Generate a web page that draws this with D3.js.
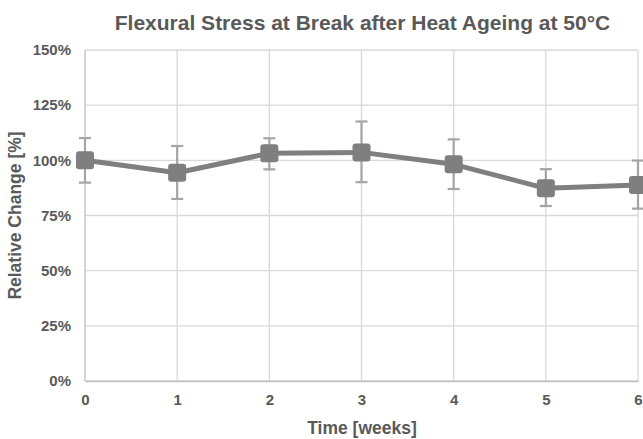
<!DOCTYPE html>
<html>
<head>
<meta charset="utf-8">
<script src="https://cdn.jsdelivr.net/npm/d3@7"></script>
<style>
  body { margin: 0; background: #fff; overflow: hidden; }
  text { font-family: "Liberation Sans", Arial, sans-serif; font-weight: bold; fill: #595959; }
</style>
</head>
<body>
<div class="container"></div>
<script>
// data
var weeks = [0, 1, 2, 3, 4, 5, 6]
var relChange = [100.0, 94.4, 103.2, 103.6, 98.2, 87.3, 88.8]
var errHigh = [110.1, 106.5, 110.0, 117.6, 109.5, 96.0, 99.9]
var errLow = [89.9, 82.5, 95.9, 90.1, 87.0, 79.3, 78.1]
var yTicks = [0, 25, 50, 75, 100, 125, 150]

var W = 643
var H = 439
var margin = { top: 50, right: 5, bottom: 58, left: 85 }
var height = H - margin.top - margin.bottom

var svg = d3.select('.container')
            .append('svg')
            .attr('width', W)
            .attr('height', H)

var g = svg.append('g')
           .attr('transform', 'translate(' + margin.left + ',' + margin.top + ')')

var xScale = d3.scaleLinear().domain([0, 6]).range([0, 553])
var yScale = d3.scaleLinear().domain([0, 150]).range([height, 0])

// gridlines
g.append('g')
 .selectAll('line')
 .data(yTicks)
 .enter()
 .append('line')
 .attr('x1', 0)
 .attr('x2', xScale(6))
 .attr('y1', function (d) { return yScale(d) })
 .attr('y2', function (d) { return yScale(d) })
 .attr('stroke', '#d9d9d9')
 .attr('stroke-width', 1.3)

g.append('g')
 .selectAll('line')
 .data(weeks)
 .enter()
 .append('line')
 .attr('x1', function (d) { return xScale(d) })
 .attr('x2', function (d) { return xScale(d) })
 .attr('y1', 0)
 .attr('y2', height)
 .attr('stroke', function (d) { return d === 0 ? '#bfbfbf' : '#d9d9d9' })
 .attr('stroke-width', 1.3)

// x axis
var xAxis = g.append('g')
             .attr('transform', 'translate(0,' + height + ')')
             .call(d3.axisBottom(xScale).tickValues(weeks).tickSize(0).tickPadding(13)
                     .tickFormat(d3.format('d')))
xAxis.select('.domain').attr('stroke', '#bfbfbf').attr('stroke-width', 1.5)
xAxis.selectAll('text').style('font-size', '15px').attr('fill', '#595959')

// y axis
var yAxis = g.append('g')
             .call(d3.axisLeft(yScale).tickValues(yTicks).tickSize(0).tickPadding(14)
                     .tickFormat(function (d) { return d + '%' }))
yAxis.select('.domain').remove()
yAxis.selectAll('text').style('font-size', '15px').attr('fill', '#595959')

// error bars
var eb = g.append('g')
          .selectAll('.err')
          .data(weeks)
          .enter()
          .append('g')
          .attr('class', 'err')
eb.append('line')
  .attr('x1', function (d) { return xScale(d) })
  .attr('x2', function (d) { return xScale(d) })
  .attr('y1', function (d, i) { return yScale(errHigh[i]) })
  .attr('y2', function (d, i) { return yScale(errLow[i]) })
  .attr('stroke', '#a5a5a5')
  .attr('stroke-width', 2.2)
;[errHigh, errLow].forEach(function (arr) {
  eb.append('line')
    .attr('x1', function (d) { return xScale(d) - 6 })
    .attr('x2', function (d) { return xScale(d) + 6 })
    .attr('y1', function (d, i) { return yScale(arr[i]) })
    .attr('y2', function (d, i) { return yScale(arr[i]) })
    .attr('stroke', '#a5a5a5')
    .attr('stroke-width', 2.2)
})

// line
var line = d3.line()
             .x(function (d, i) { return xScale(weeks[i]) })
             .y(function (d) { return yScale(d) })
g.append('path')
 .datum(relChange)
 .attr('d', line)
 .attr('fill', 'none')
 .attr('stroke', '#7f7f7f')
 .attr('stroke-width', 5)
 .attr('stroke-linejoin', 'round')

// markers
g.selectAll('.marker')
 .data(relChange)
 .enter()
 .append('rect')
 .attr('class', 'marker')
 .attr('x', function (d, i) { return xScale(weeks[i]) - 9 })
 .attr('y', function (d) { return yScale(d) - 9 })
 .attr('width', 18)
 .attr('height', 18)
 .attr('rx', 3)
 .attr('fill', '#7f7f7f')

// titles
svg.append('text')
   .attr('x', 362.5)
   .attr('y', 30)
   .attr('text-anchor', 'middle')
   .style('font-size', '21px')
   .text('Flexural Stress at Break after Heat Ageing at 50°C')

svg.append('text')
   .attr('x', 362)
   .attr('y', 434)
   .attr('text-anchor', 'middle')
   .style('font-size', '17.5px')
   .text('Time [weeks]')

svg.append('text')
   .attr('transform', 'translate(21,' + (margin.top + height / 2) + ') rotate(-90)')
   .attr('text-anchor', 'middle')
   .style('font-size', '17.5px')
   .text('Relative Change [%]')
</script>
</body>
</html>
